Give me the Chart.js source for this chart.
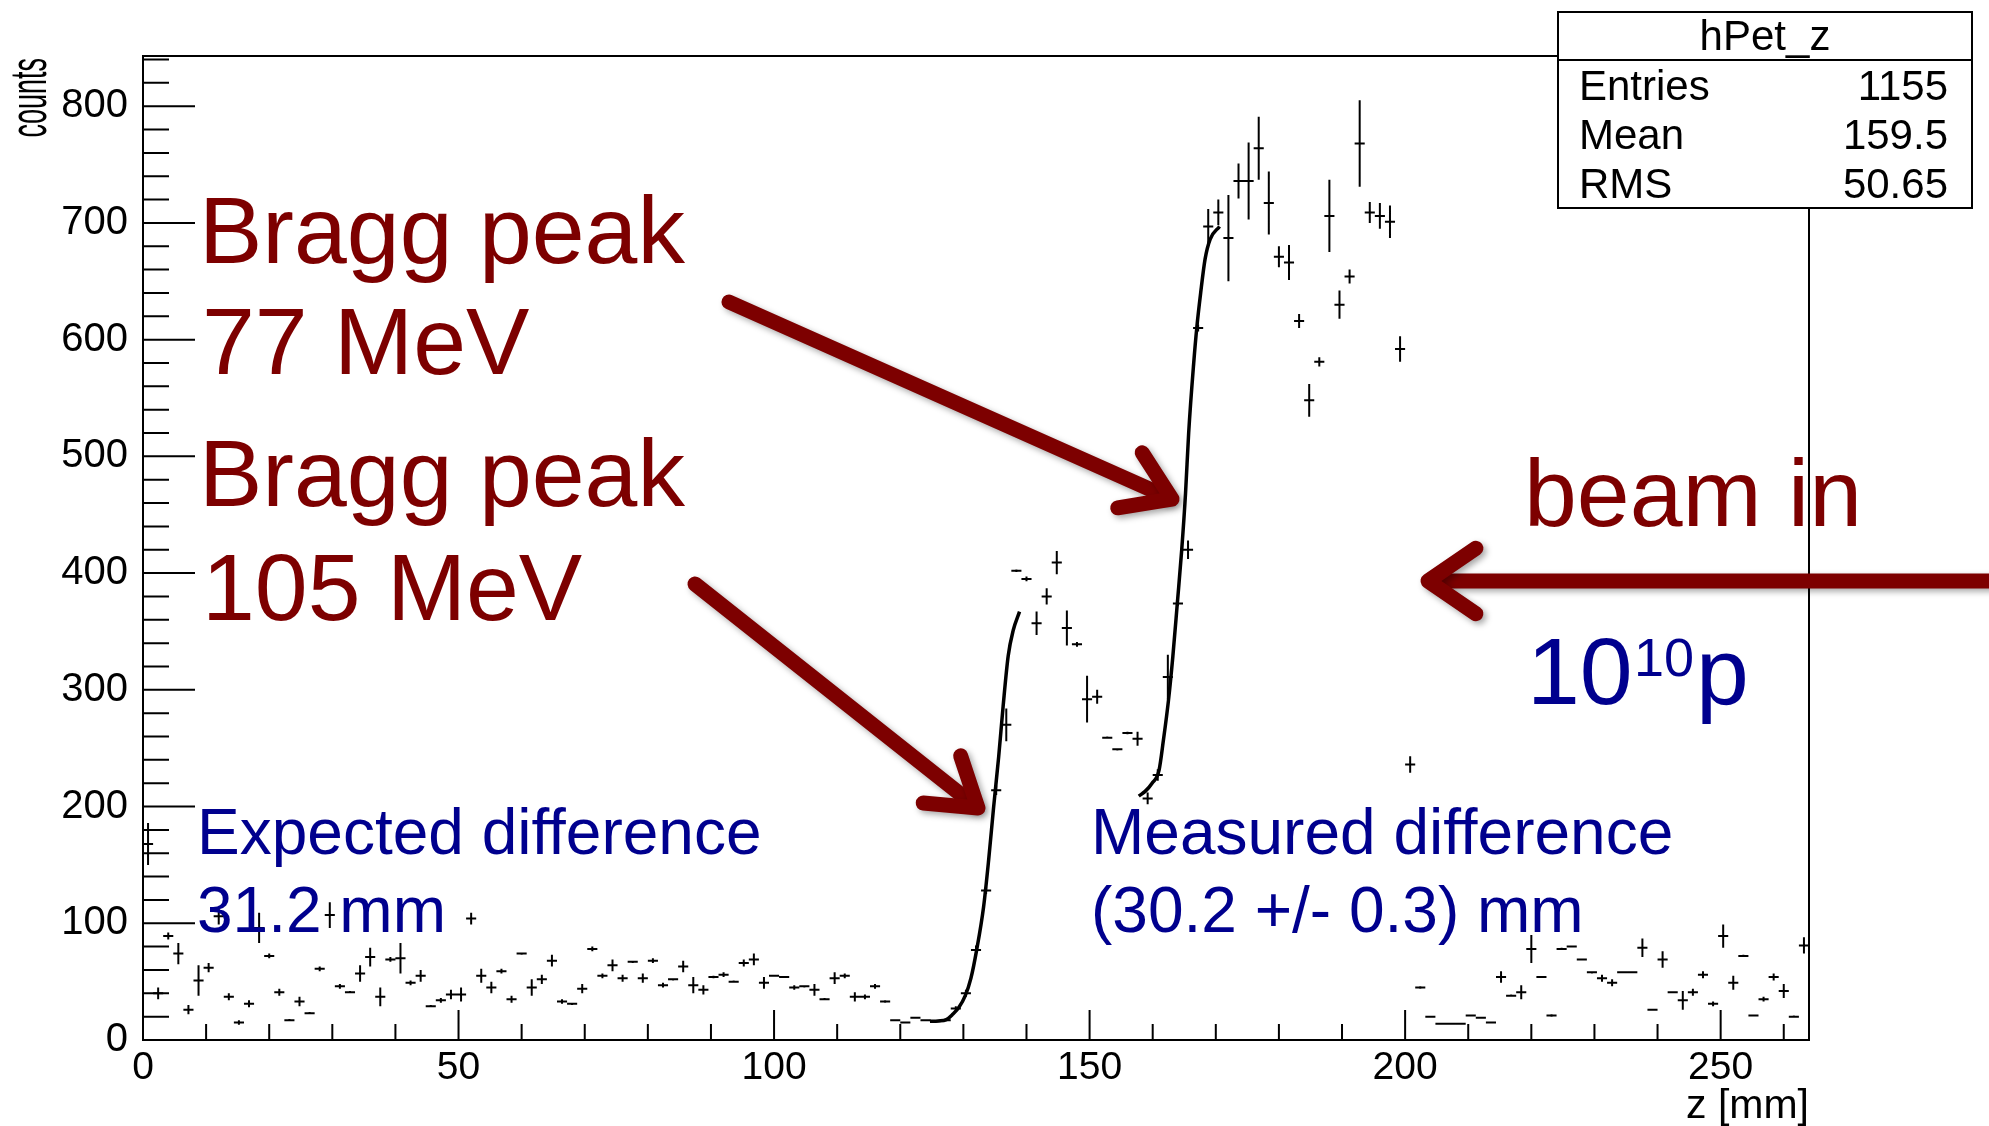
<!DOCTYPE html>
<html>
<head>
<meta charset="utf-8">
<title>hPet_z</title>
<script src="https://cdn.jsdelivr.net/npm/chart.js@4.4.1/dist/chart.umd.min.js"></script>
<style>
    html, body { margin: 0; padding: 0; background: #fff; }
    #wrap { width: 1989px; height: 1126px; }
</style>
</head>
<body>
<div id="wrap"><canvas id="hPetChart" width="1989" height="1126"></canvas></div>
<script>
    // hPet_z : 165 bins of 1.6 mm between 0 and 264 mm
    const zMin = 0;
    const zMax = 264;
    const binWidth = 1.6;

    const counts = [
        168, 40, 89, 74, 26, 51, 62, 106, 37, 15,
        31, 96, 72, 41, 17, 33, 23, 61, 107, 46,
        41, 57, 71, 37, 69, 70, 49, 55, 29, 34,
        39, 39, 104, 55, 45, 59, 35, 74, 45, 52,
        68, 33, 31, 44, 78, 55, 64, 53, 67, 53,
        68, 47, 52, 63, 47, 43, 54, 56, 50, 66,
        69, 49, 55, 54, 45, 46, 43, 35, 53, 55,
        37, 37, 46, 33, 17, 15, 19, 17, 16, 17,
        27, 40, 77, 128, 214, 270, 402, 395, 357, 380,
        409, 353, 339, 292, 294, 259, 249, 263, 258, 207,
        227, 311, 374, 420, 610, 697, 709, 687, 736, 736,
        764, 717, 671, 666, 616, 548, 581, 706, 630, 654,
        768, 709, 706, 701, 592, 236, 45, 20, 14, 14,
        14, 21, 19, 15, 54, 38, 41, 78, 54, 21,
        78, 80, 69, 58, 53, 49, 58, 58, 79, 26,
        69, 41, 34, 41, 56, 31, 89, 49, 72, 21,
        35, 54, 42, 20, 81
    ];

    const errors = [
        18, 5, 3, 9, 4, 13, 4, 7, 3, 2,
        3, 13, 2, 3, 1, 4, 1, 2, 11, 2,
        1, 7, 8, 8, 2, 13, 2, 5, 1, 2,
        4, 6, 5, 6, 5, 2, 3, 1, 7, 4,
        5, 2, 1, 4, 2, 2, 5, 3, 1, 4,
        2, 2, 1, 5, 7, 4, 1, 2, 1, 3,
        5, 5, 0.5, 0.5, 2, 1, 5, 1, 5, 2,
        4, 2, 2, 1, 0.5, 0.5, 0.5, 0.5, 0.5, 0.5,
        2, 3, 4, 3, 4, 14, 1, 2, 10, 7,
        10, 15, 2, 20, 6, 1, 1, 1, 6, 5,
        5, 19, 2, 8, 3, 15, 11, 37, 15, 33,
        27, 27, 9, 15, 6, 14, 4, 31, 12, 6,
        37, 9, 11, 14, 11, 7, 1, 0.5, 0.5, 0.5,
        0.5, 0.5, 0.5, 0.5, 5, 1, 6, 12, 0.5, 1,
        1, 0.5, 0.5, 1, 3, 3, 0.5, 0.5, 8, 0.5,
        7, 0.5, 8, 3, 3, 2, 10, 6, 1, 0.5,
        2, 3, 6, 1, 7
    ];

    // fitted distal edges
    const fit105Z = [124.7, 126, 127.3, 128.3, 129.3, 130.3, 131.2, 132.1, 133.2, 134, 134.8, 135.6, 136.3, 137.1, 137.9, 138.9];
    const fit105Y = [16, 16.3, 17.5, 22, 28, 38, 53, 77, 114, 154, 200, 243, 286, 329, 351, 367];
    const fit77Z = [157.8, 158.8, 159.9, 161, 161.7, 162.5, 163.2, 163.9, 164.6, 165.2, 165.7, 166.5, 167.0, 167.6, 168.3, 169.1, 170.6];
    const fit77Y = [209, 213, 220, 231, 257, 291, 329, 374, 420, 468, 520, 580, 611, 640, 669, 686, 697];

    const statNames = ['Entries', 'Mean', 'RMS'];
    const statValues = ['1155', '159.5', '50.65'];

    const FONT = '"Liberation Sans", Arial, Helvetica, sans-serif';
    const DARK_RED = '#7d0000';
    const DARK_BLUE = '#00008e';

    const histPoints = counts.map((c, i) => ({ x: zMin + (i + 0.5) * binWidth, y: c, err: errors[i] }));

    // ROOT style error crosses
    const errorCrosses = {
        id: 'errorCrosses',
        beforeDatasetsDraw(chart) {
            const { ctx, scales: { x, y } } = chart;
            ctx.save();
            ctx.strokeStyle = '#000';
            ctx.lineWidth = 2;
            ctx.beginPath();
            histPoints.forEach(p => {
                const px = x.getPixelForValue(p.x);
                const py = y.getPixelForValue(p.y);
                ctx.moveTo(x.getPixelForValue(p.x - binWidth / 2), py);
                ctx.lineTo(x.getPixelForValue(p.x + binWidth / 2), py);
                ctx.moveTo(px, y.getPixelForValue(p.y - p.err));
                ctx.lineTo(px, y.getPixelForValue(p.y + p.err));
            });
            ctx.stroke();
            ctx.restore();
        }
    };

    // frame, inward ticks and the stretched "counts" label
    const rootFrame = {
        id: 'rootFrame',
        afterDatasetsDraw(chart) {
            const { ctx, chartArea: a, scales: { x, y } } = chart;
            ctx.save();
            ctx.strokeStyle = '#000';
            ctx.lineWidth = 2;
            ctx.strokeRect(a.left, a.top, a.right - a.left, a.bottom - a.top);
            ctx.beginPath();
            for (let v = 0; v <= zMax; v += 10) {
                const px = x.getPixelForValue(v);
                const len = v % 50 === 0 ? 30 : 16;
                ctx.moveTo(px, a.bottom);
                ctx.lineTo(px, a.bottom - len);
            }
            for (let v = 0; v <= y.max; v += 20) {
                const py = y.getPixelForValue(v);
                const len = v % 100 === 0 ? 52 : 26;
                ctx.moveTo(a.left, py);
                ctx.lineTo(a.left + len, py);
            }
            ctx.stroke();

            ctx.translate(32, a.top + 2);
            ctx.rotate(-Math.PI / 2);
            ctx.scale(1, 1.9);
            ctx.fillStyle = '#000';
            ctx.font = '27px ' + FONT;
            ctx.textAlign = 'right';
            ctx.textBaseline = 'middle';
            ctx.fillText('counts', 0, 0);
            ctx.restore();
        }
    };

    function drawArrow(ctx, x0, y0, x1, y1, head, spread) {
        const ang = Math.atan2(y1 - y0, x1 - x0);
        const back = 6;
        ctx.beginPath();
        ctx.moveTo(x0, y0);
        ctx.lineTo(x1 - back * Math.cos(ang), y1 - back * Math.sin(ang));
        ctx.stroke();
        const a1 = ang + Math.PI - spread;
        const a2 = ang + Math.PI + spread;
        ctx.beginPath();
        ctx.moveTo(x1 + head * Math.cos(a1), y1 + head * Math.sin(a1));
        ctx.lineTo(x1, y1);
        ctx.lineTo(x1 + head * Math.cos(a2), y1 + head * Math.sin(a2));
        ctx.stroke();
    }

    const annotations = {
        id: 'annotations',
        afterDraw(chart) {
            const ctx = chart.ctx;
            ctx.save();
            ctx.textBaseline = 'alphabetic';
            ctx.textAlign = 'left';

            ctx.fillStyle = DARK_RED;
            ctx.font = '95px ' + FONT;
            ctx.fillText('Bragg peak', 199, 263);
            ctx.fillText('77 MeV', 202, 374);
            ctx.fillText('Bragg peak', 199, 506);
            ctx.fillText('105 MeV', 202, 620);
            ctx.fillText('beam in', 1524, 526);

            ctx.fillStyle = DARK_BLUE;
            ctx.fillText('10', 1527, 704);
            ctx.font = '54px ' + FONT;
            ctx.fillText('10', 1634, 676);
            ctx.font = '95px ' + FONT;
            ctx.fillText('p', 1696, 704);

            ctx.font = '64px ' + FONT;
            ctx.fillText('Expected difference', 197, 854);
            ctx.fillText('31.2 mm', 197, 932);
            ctx.fillText('Measured difference', 1091, 854);
            ctx.fillText('(30.2 +/- 0.3) mm', 1091, 932);

            ctx.strokeStyle = DARK_RED;
            ctx.lineWidth = 15;
            ctx.lineCap = 'round';
            ctx.lineJoin = 'round';
            ctx.shadowColor = 'rgba(0,0,0,0.35)';
            ctx.shadowBlur = 6;
            ctx.shadowOffsetX = 3;
            ctx.shadowOffsetY = 3;
            drawArrow(ctx, 729, 302, 1172, 499, 55, 0.58);
            drawArrow(ctx, 695, 584, 978, 808, 55, 0.58);
            drawArrow(ctx, 2000, 581, 1428, 581, 58, 0.6);
            ctx.restore();

            // stats box
            ctx.save();
            const bx = 1558, by = 12, bw = 414, bh = 196;
            ctx.fillStyle = '#fff';
            ctx.fillRect(bx, by, bw, bh);
            ctx.strokeStyle = '#000';
            ctx.lineWidth = 2;
            ctx.strokeRect(bx, by, bw, bh);
            ctx.beginPath();
            ctx.moveTo(bx, 60);
            ctx.lineTo(bx + bw, 60);
            ctx.stroke();
            ctx.fillStyle = '#000';
            ctx.textBaseline = 'middle';
            ctx.textAlign = 'center';
            ctx.font = '42px ' + FONT;
            ctx.fillText('hPet_z', bx + bw / 2, 38);
            ctx.font = '42px ' + FONT;
            statNames.forEach((n, i) => {
                const ty = 88 + i * 49;
                ctx.textAlign = 'left';
                ctx.fillText(n, 1579, ty);
                ctx.textAlign = 'right';
                ctx.fillText(statValues[i], 1948, ty);
            });
            ctx.restore();
        }
    };

    new Chart(document.getElementById('hPetChart').getContext('2d'), {
        type: 'scatter',
        data: {
            datasets: [
                {
                    label: 'hPet_z',
                    data: histPoints,
                    pointRadius: 0,
                    showLine: false
                },
                {
                    label: 'fit 105 MeV',
                    data: fit105Z.map((z, i) => ({ x: z, y: fit105Y[i] })),
                    showLine: true,
                    borderColor: '#000',
                    borderWidth: 3.5,
                    pointRadius: 0,
                    cubicInterpolationMode: 'monotone'
                },
                {
                    label: 'fit 77 MeV',
                    data: fit77Z.map((z, i) => ({ x: z, y: fit77Y[i] })),
                    showLine: true,
                    borderColor: '#000',
                    borderWidth: 3.5,
                    pointRadius: 0,
                    cubicInterpolationMode: 'monotone'
                }
            ]
        },
        options: {
            responsive: false,
            animation: false,
            devicePixelRatio: 1,
            layout: { padding: { left: 0, top: 56, right: 180, bottom: 0 } },
            plugins: {
                legend: { display: false },
                tooltip: { enabled: false }
            },
            scales: {
                x: {
                    type: 'linear',
                    min: zMin,
                    max: zMax,
                    grid: { display: false, drawTicks: false },
                    border: { display: false },
                    ticks: {
                        stepSize: 50,
                        includeBounds: false,
                        autoSkip: false,
                        maxRotation: 0,
                        padding: 5,
                        color: '#000',
                        font: { family: FONT, size: 39 }
                    },
                    title: {
                        display: true,
                        text: 'z [mm]',
                        align: 'end',
                        color: '#000',
                        font: { family: FONT, size: 41, lineHeight: 0.8 },
                        padding: { top: 0, bottom: 3 }
                    },
                    afterFit: s => { s.height = 86; }
                },
                y: {
                    type: 'linear',
                    min: 0,
                    max: 843,
                    grid: { display: false, drawTicks: false },
                    border: { display: false },
                    ticks: {
                        stepSize: 100,
                        includeBounds: false,
                        padding: 15,
                        color: '#000',
                        font: { family: FONT, size: 40 }
                    },
                    title: { display: false, text: 'counts' },
                    afterFit: s => { s.height; s.width = 143; }
                }
            }
        },
        plugins: [errorCrosses, rootFrame, annotations]
    });
</script>
</body>
</html>
